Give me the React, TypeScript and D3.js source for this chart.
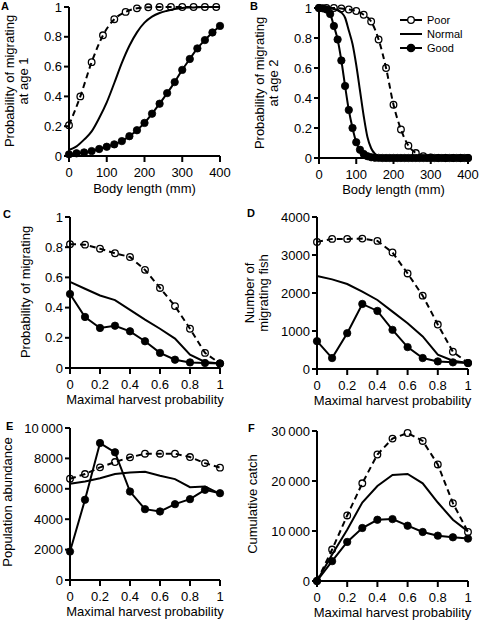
import React from 'react';
import * as d3 from 'd3';

// ---------- data ----------
const bodyTicks = [0, 100, 200, 300, 400];
const probTicks = [0, 0.2, 0.4, 0.6, 0.8, 1];
const harvestTicks = [0, 0.2, 0.4, 0.6, 0.8, 1];
const fishTicks = [0, 1000, 2000, 3000, 4000];
const abundanceTicks = [0, 2000, 4000, 6000, 8000, 10000];
const catchTicks = [0, 10000, 20000, 30000];

// Panel A: probability of migrating at age 1
const aPoorX = [0, 30, 60, 90, 120, 150, 180, 210, 240, 270, 300, 330, 360, 390];
const aPoorY = [0.207, 0.4, 0.63, 0.81, 0.918, 0.967, 0.991, 0.998, 1, 1, 1, 1, 1, 1];
const aNormalX = [0, 20, 40, 60, 80, 100, 120, 140, 160, 180, 200, 220, 240, 260, 280, 300, 320, 340, 360, 380, 400];
const aNormalY = [0.04, 0.065, 0.11, 0.165, 0.255, 0.36, 0.49, 0.625, 0.74, 0.83, 0.895, 0.935, 0.96, 0.975, 0.987, 0.994, 0.997, 0.999, 1, 1, 1];
const aGoodX = [0, 20, 40, 60, 80, 100, 120, 140, 160, 180, 200, 220, 240, 260, 280, 300, 320, 340, 360, 380, 400];
const aGoodY = [0.011, 0.018, 0.024, 0.033, 0.047, 0.062, 0.078, 0.1, 0.133, 0.173, 0.222, 0.284, 0.351, 0.422, 0.496, 0.578, 0.651, 0.722, 0.778, 0.829, 0.873];

// Panel B: probability of migrating at age 2
const bPoorX = [0, 20, 40, 60, 80, 100, 120, 140, 160, 180, 200, 220, 240, 260, 280, 300, 320, 340, 360, 380, 400];
const bPoorY = [1, 1, 1, 0.997, 0.99, 0.98, 0.955, 0.91, 0.79, 0.6, 0.355, 0.19, 0.082, 0.033, 0.012, 0.004, 0.001, 0, 0, 0, 0];
const bNormalX = [0, 10, 20, 30, 40, 50, 60, 70, 80, 90, 100, 110, 120, 130, 140, 150, 160, 170, 180, 190, 200, 250, 300, 350, 400];
const bNormalY = [1, 1, 0.999, 0.997, 0.993, 0.985, 0.97, 0.935, 0.85, 0.76, 0.62, 0.45, 0.28, 0.14, 0.065, 0.028, 0.012, 0.005, 0.002, 0, 0, 0, 0, 0, 0];
const bGoodX = [0, 10, 20, 30, 40, 50, 60, 70, 80, 90, 100, 110, 120, 130, 140, 150, 160, 170, 180, 190, 200, 210, 220, 230, 240, 250, 260, 270, 280, 290, 300, 310, 320, 330, 340, 350, 360, 370, 380, 390, 400];
const bGoodY = [1, 0.998, 0.99, 0.96, 0.88, 0.79, 0.65, 0.48, 0.32, 0.2, 0.105, 0.055, 0.027, 0.012, 0.005, 0.002, 0.001, 0, 0, 0, 0, 0, 0, 0, 0, 0, 0, 0, 0, 0, 0, 0, 0, 0, 0, 0, 0, 0, 0, 0, 0];

// Panels C-F: against maximal harvest probability
const harvest = [0, 0.1, 0.2, 0.3, 0.4, 0.5, 0.6, 0.7, 0.8, 0.9, 1];
const cPoor = [0.82, 0.817, 0.79, 0.76, 0.735, 0.65, 0.53, 0.41, 0.26, 0.1, 0.03];
const cNormal = [0.57, 0.525, 0.48, 0.45, 0.385, 0.32, 0.26, 0.195, 0.088, 0.04, 0.03];
const cGood = [0.49, 0.338, 0.265, 0.28, 0.243, 0.177, 0.1, 0.055, 0.037, 0.033, 0.03];
const dPoor = [3345, 3424, 3424, 3432, 3371, 3066, 2515, 1930, 1170, 454, 157];
const dNormal = [2445, 2358, 2236, 2035, 1816, 1511, 1205, 856, 375, 218, 157];
const dGood = [733, 288, 943, 1712, 1528, 1030, 576, 288, 200, 175, 157];
const ePoor = [6660, 6970, 7410, 7760, 8070, 8310, 8310, 8310, 8090, 7690, 7390];
const eNormal = [6330, 6480, 6700, 6970, 7080, 7120, 6860, 6640, 6110, 6150, 5670];
const eGood = [1870, 5280, 9010, 8400, 5820, 4660, 4510, 4990, 5320, 5930, 5710];
const fPoor = [0, 6290, 13110, 19540, 25300, 28480, 29600, 28010, 23310, 15560, 9800];
const fNormal = [0, 5300, 10260, 15700, 19000, 21200, 21400, 19540, 15700, 12250, 9930];
const fGood = [0, 3970, 7810, 10600, 12250, 12380, 11060, 9800, 9070, 8740, 8480];

const legendLabels = ['Poor', 'Normal', 'Good'];

// ---------- styling ----------
const FONT = "'Liberation Sans', Arial, Helvetica, sans-serif";
const FS = 13;
const AXIS_W = 2;
const LINE_W = 2;

type Kind = 'poor' | 'normal' | 'good';
type SeriesDef = { xs: number[]; ys: number[]; kind: Kind };

const zip = (xs: number[], ys: number[]) => xs.map((v, i) => [v, ys[i]] as [number, number]);

const fmtThousands = (v: number) =>
  v >= 10000 ? d3.format(',')(v).replace(/,/g, '\u2009') : String(v);

type PanelProps = {
  letter: string;
  letterPos: [number, number];
  x0: number; x1: number; yTop: number; yBot: number;
  xDomain: [number, number]; yDomain: [number, number];
  xTicks: number[]; yTicks: number[];
  yFmt: (v: number) => string;
  xTitle: string;
  xTitleGap: number;
  yTitle: { text: string; bx: number }[];
  yTitleCy: number;
  series: SeriesDef[];
  smooth: boolean;
};

function Panel(p: PanelProps) {
  const x = d3.scaleLinear().domain(p.xDomain).range([p.x0, p.x1]);
  const y = d3.scaleLinear().domain(p.yDomain).range([p.yBot, p.yTop]);
  const line = d3
    .line<[number, number]>()
    .x((d) => x(d[0]))
    .y((d) => y(d[1]))
    .curve(p.smooth ? d3.curveMonotoneX : d3.curveLinear);

  const order: Kind[] = ['normal', 'poor', 'good'];
  const sorted = [...p.series].sort((a, b) => order.indexOf(a.kind) - order.indexOf(b.kind));

  return (
    <g>
      <text x={p.letterPos[0]} y={p.letterPos[1]} fontSize={11} fontWeight="bold" fontFamily={FONT}>
        {p.letter}
      </text>
      {sorted.map((s, i) => {
        const pts = zip(s.xs, s.ys);
        return (
          <g key={i}>
            <path
              d={line(pts) || ''}
              fill="none"
              stroke="#000"
              strokeWidth={LINE_W}
              strokeDasharray={s.kind === 'poor' ? '6,4' : undefined}
            />
            {s.kind !== 'normal' &&
              pts.map((d, j) => (
                <circle
                  key={j}
                  cx={x(d[0])}
                  cy={y(d[1])}
                  r={s.kind === 'good' ? 3.7 : 3.3}
                  fill={s.kind === 'good' ? '#000' : 'none'}
                  stroke="#000"
                  strokeWidth={s.kind === 'good' ? 0.8 : 1.3}
                />
              ))}
          </g>
        );
      })}
      {/* y axis */}
      <line x1={p.x0} x2={p.x0} y1={p.yTop} y2={p.yBot + AXIS_W / 2} stroke="#000" strokeWidth={AXIS_W} />
      {p.yTicks.map((t) => (
        <g key={'y' + t}>
          <line x1={p.x0 - 5} x2={p.x0} y1={y(t)} y2={y(t)} stroke="#000" strokeWidth={AXIS_W} />
          <text x={p.x0 - 7} y={y(t)} dy="0.36em" textAnchor="end" fontSize={FS} fontFamily={FONT}>
            {p.yFmt(t)}
          </text>
        </g>
      ))}
      {/* x axis */}
      <line x1={p.x0 - AXIS_W / 2} x2={p.x1} y1={p.yBot} y2={p.yBot} stroke="#000" strokeWidth={AXIS_W} />
      {p.xTicks.map((t) => (
        <g key={'x' + t}>
          <line x1={x(t)} x2={x(t)} y1={p.yBot} y2={p.yBot + 6} stroke="#000" strokeWidth={AXIS_W} />
          <text x={x(t)} y={p.yBot + 21} textAnchor="middle" fontSize={FS} fontFamily={FONT}>
            {String(t)}
          </text>
        </g>
      ))}
      <text
        x={(p.x0 + p.x1) / 2}
        y={p.yBot + p.xTitleGap}
        textAnchor="middle"
        fontSize={FS}
        fontFamily={FONT}
      >
        {p.xTitle}
      </text>
      {p.yTitle.map((l, i) => (
        <text
          key={i}
          transform={`translate(${l.bx},${p.yTitleCy}) rotate(-90)`}
          textAnchor="middle"
          fontSize={FS}
          fontFamily={FONT}
        >
          {l.text}
        </text>
      ))}
    </g>
  );
}

function Legend({ x, ys }: { x: number; ys: number[] }) {
  const kinds: Kind[] = ['poor', 'normal', 'good'];
  return (
    <g>
      {kinds.map((k, i) => (
        <g key={k}>
          <line x1={x} x2={x + 22} y1={ys[i]} y2={ys[i]} stroke="#000" strokeWidth={LINE_W} />
          {k !== 'normal' && (
            <circle
              cx={x + 11}
              cy={ys[i]}
              r={k === 'good' ? 3.7 : 3.3}
              fill={k === 'good' ? '#000' : '#fff'}
              stroke="#000"
              strokeWidth={1.3}
            />
          )}
          <text x={x + 27} y={ys[i]} dy="0.36em" fontSize={11} fontFamily={FONT}>
            {legendLabels[i]}
          </text>
        </g>
      ))}
    </g>
  );
}

export default function App() {
  const probFmt = (v: number) => String(v);
  const harvestSeries = (po: number[], no: number[], go: number[]): SeriesDef[] => [
    { xs: harvest, ys: no, kind: 'normal' },
    { xs: harvest, ys: po, kind: 'poor' },
    { xs: harvest, ys: go, kind: 'good' },
  ];
  return (
    <svg width={480} height={622} style={{ position: 'absolute', left: 0, top: 0, background: '#fff' }}>
      <rect x={0} y={0} width={480} height={622} fill="#fff" />
      <Panel
        letter="A"
        letterPos={[1, 10]}
        x0={69} x1={220} yTop={7} yBot={156}
        xDomain={[0, 400]} yDomain={[0, 1]}
        xTicks={bodyTicks} yTicks={probTicks} yFmt={probFmt}
        xTitle="Body length (mm)" xTitleGap={37}
        yTitle={[{ text: 'Probability of migrating', bx: 14 }, { text: 'at age 1', bx: 28 }]}
        yTitleCy={81}
        smooth
        series={[
          { xs: aNormalX, ys: aNormalY, kind: 'normal' },
          { xs: aPoorX, ys: aPoorY, kind: 'poor' },
          { xs: aGoodX, ys: aGoodY, kind: 'good' },
        ]}
      />
      <Panel
        letter="B"
        letterPos={[250, 10]}
        x0={319} x1={468} yTop={8} yBot={158}
        xDomain={[0, 400]} yDomain={[0, 1]}
        xTicks={bodyTicks} yTicks={probTicks} yFmt={probFmt}
        xTitle="Body length (mm)" xTitleGap={36}
        yTitle={[{ text: 'Probability of migrating', bx: 264 }, { text: 'at age 2', bx: 278 }]}
        yTitleCy={83}
        smooth
        series={[
          { xs: bNormalX, ys: bNormalY, kind: 'normal' },
          { xs: bPoorX, ys: bPoorY, kind: 'poor' },
          { xs: bGoodX, ys: bGoodY, kind: 'good' },
        ]}
      />
      <Legend x={400} ys={[20, 34, 48]} />
      <Panel
        letter="C"
        letterPos={[3, 218]}
        x0={70} x1={220} yTop={217} yBot={368}
        xDomain={[0, 1]} yDomain={[0, 1]}
        xTicks={harvestTicks} yTicks={probTicks} yFmt={probFmt}
        xTitle="Maximal harvest probability" xTitleGap={36}
        yTitle={[{ text: 'Probability of migrating', bx: 30 }]}
        yTitleCy={292}
        smooth={false}
        series={harvestSeries(cPoor, cNormal, cGood)}
      />
      <Panel
        letter="D"
        letterPos={[247, 217]}
        x0={317} x1={468} yTop={217} yBot={369}
        xDomain={[0, 1]} yDomain={[0, 4000]}
        xTicks={harvestTicks} yTicks={fishTicks} yFmt={fmtThousands}
        xTitle="Maximal harvest probability" xTitleGap={36}
        yTitle={[{ text: 'Number of', bx: 254 }, { text: 'migrating fish', bx: 268 }]}
        yTitleCy={293}
        smooth={false}
        series={harvestSeries(dPoor, dNormal, dGood)}
      />
      <Panel
        letter="E"
        letterPos={[6, 430]}
        x0={70} x1={220} yTop={428} yBot={580}
        xDomain={[0, 1]} yDomain={[0, 10000]}
        xTicks={harvestTicks} yTicks={abundanceTicks} yFmt={fmtThousands}
        xTitle="Maximal harvest probability" xTitleGap={36}
        yTitle={[{ text: 'Population abundance', bx: 12 }]}
        yTitleCy={502}
        smooth={false}
        series={harvestSeries(ePoor, eNormal, eGood)}
      />
      <Panel
        letter="F"
        letterPos={[248, 432]}
        x0={317} x1={468} yTop={431} yBot={581}
        xDomain={[0, 1]} yDomain={[0, 30000]}
        xTicks={harvestTicks} yTicks={catchTicks} yFmt={fmtThousands}
        xTitle="Maximal harvest probability" xTitleGap={36}
        yTitle={[{ text: 'Cumulative catch', bx: 257 }]}
        yTitleCy={504}
        smooth={false}
        series={harvestSeries(fPoor, fNormal, fGood)}
      />
    </svg>
  );
}
